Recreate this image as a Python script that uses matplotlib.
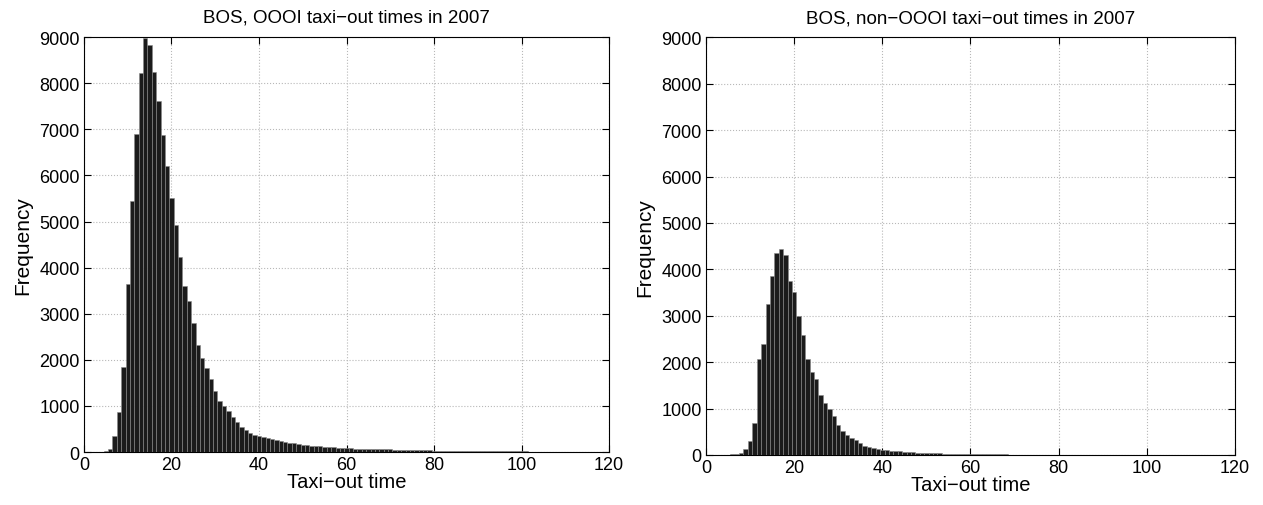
import numpy as np
import matplotlib
matplotlib.use("Agg")
import matplotlib.pyplot as plt

# taxi-out minutes (bin centres, 1 min wide)
minutes = list(range(1, 121))

# BOS, OOOI flights - counts per minute (minute 1 .. 120)
oooi_counts = [
    0, 0, 0, 5, 15, 70, 347, 868, 1843, 3650,
    5436, 6904, 8220, 8990, 8820, 8240, 7605, 6870, 6200, 5500,
    4920, 4229, 3600, 3280, 2790, 2330, 2050, 1820, 1580, 1330,
    1100, 1000, 880, 760, 650, 550, 480, 420, 380, 350,
    330, 300, 280, 260, 240, 220, 200, 185, 170, 160,
    150, 140, 130, 120, 115, 105, 100, 95, 90, 85,
    80, 75, 75, 70, 70, 65, 60, 60, 55, 55,
    50, 50, 45, 45, 40, 40, 38, 35, 35, 32,
    30, 30, 28, 28, 25, 25, 24, 22, 22, 20,
    20, 18, 18, 17, 16, 15, 15, 14, 13, 12,
    12, 11, 11, 10, 10, 9, 9, 8, 8, 8,
    7, 7, 6, 6, 6, 5, 5, 5, 4, 4,
]

# BOS, non-OOOI flights
non_oooi_counts = [
    0, 0, 0, 0, 5, 10, 20, 40, 120, 310,
    690, 2075, 2390, 3255, 3855, 4360, 4434, 4300, 3740, 3510,
    2990, 2580, 2075, 1786, 1627, 1302, 1121, 991, 831, 651,
    506, 434, 362, 311, 253, 195, 166, 145, 123, 110,
    100, 90, 85, 75, 65, 60, 55, 50, 45, 40,
    38, 35, 32, 30, 25, 22, 20, 18, 16, 15,
    14, 13, 12, 11, 10, 10, 9, 9, 8, 8,
    7, 7, 6, 6, 6, 5, 5, 5, 4, 4,
    4, 4, 3, 3, 3, 3, 3, 2, 2, 2,
    2, 2, 2, 2, 2, 1, 1, 1, 1, 1,
    1, 1, 1, 1, 1, 1, 1, 1, 1, 1,
    1, 1, 1, 1, 1, 1, 1, 1, 1, 1,
]

titles = ["BOS, OOOI taxi\u2212out times in 2007",
          "BOS, non\u2212OOOI taxi\u2212out times in 2007"]
x_ticks = [0, 20, 40, 60, 80, 100, 120]
y_ticks = list(range(0, 10000, 1000))

plt.rcParams['font.family'] = ['Liberation Sans', 'DejaVu Sans']

fig = plt.figure(figsize=(12.63, 5.06), dpi=100)
ax1 = fig.add_axes([0.0665, 0.1047, 0.4157, 0.820])
ax2 = fig.add_axes([0.559, 0.0990, 0.4188, 0.825])

for ax, counts, title in zip([ax1, ax2], [oooi_counts, non_oooi_counts], titles):
    ax.bar(minutes, counts, width=1.0, color='#1b1b1b',
           edgecolor='#8a8a8a', linewidth=0.4, zorder=3)
    ax.set_xlim(0, 120)
    ax.set_ylim(0, 9000)
    ax.set_xticks(x_ticks)
    ax.set_yticks(y_ticks)
    ax.tick_params(direction='in', top=True, right=True, labelsize=13,
                   length=5, width=0.8, pad=3)
    ax.grid(True, linestyle=':', color='#b8b8b8', linewidth=0.8, zorder=0)
    ax.set_axisbelow(True)
    for sp in ax.spines.values():
        sp.set_linewidth(0.8)
    ax.set_title(title, fontsize=13.5, pad=11)
    ax.set_xlabel("Taxi\u2212out time", fontsize=14.5, labelpad=-1)
    ax.set_ylabel("Frequency", fontsize=15, labelpad=5)

fig.savefig("out.png", dpi=100)
